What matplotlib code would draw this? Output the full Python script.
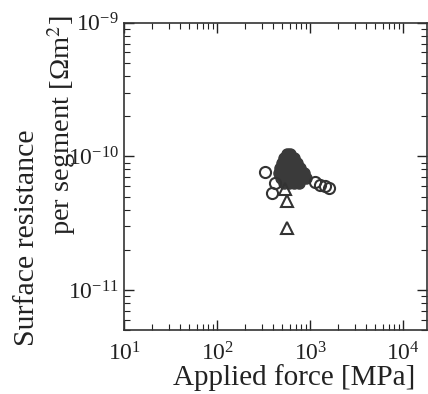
import matplotlib
matplotlib.use('Agg')
from matplotlib import pyplot as plt
from matplotlib.ticker import LogLocator, NullFormatter

plt.rcParams['font.family'] = ['Liberation Serif', 'DejaVu Serif']
plt.rcParams['mathtext.fontset'] = 'stix'

# open circles
circ_x = [328, 421, 390, 1130, 1280, 1450, 1600]
circ_y = [7.6e-11, 6.3e-11, 5.3e-11, 6.4e-11, 6.15e-11, 6.05e-11, 5.85e-11]

# open triangles
tri_x = [566, 566, 538]
tri_y = [4.67e-11, 2.92e-11, 5.75e-11]

# dense filled cluster
fill_x = [566, 609,
          525, 594, 673,
          500, 566, 640, 725,
          475, 538, 609, 690, 780,
          464, 525, 594, 673, 762, 861,
          488, 552, 625, 707, 800, 906,
          525, 594, 673, 762]
fill_y = [1.05e-10, 1.05e-10,
          9.66e-11, 9.66e-11, 9.66e-11,
          8.86e-11, 8.86e-11, 8.86e-11, 8.86e-11,
          8.13e-11, 8.13e-11, 8.13e-11, 8.13e-11, 8.13e-11,
          7.45e-11, 7.45e-11, 7.45e-11, 7.45e-11, 7.45e-11, 7.45e-11,
          6.84e-11, 6.84e-11, 6.84e-11, 6.84e-11, 6.84e-11, 6.84e-11,
          6.27e-11, 6.27e-11, 6.27e-11, 6.27e-11]

xticks = [1e1, 1e2, 1e3, 1e4]
yticks = [1e-11, 1e-10, 1e-9]

fig = plt.figure(figsize=(4.28, 3.94), dpi=100)
ax = fig.add_axes([0.29, 0.162, 0.708, 0.78])

ax.plot(fill_x, fill_y, 'o', ms=8, color='#3a3a3a', mec='#3a3a3a')
ax.plot(circ_x, circ_y, 'o', ms=8, mfc='none', mec='#333333', mew=1.5)
ax.plot(tri_x, tri_y, '^', ms=8, mfc='none', mec='#333333', mew=1.5)

ax.set_xscale('log')
ax.set_yscale('log')
ax.set_xticks(xticks)
ax.set_yticks(yticks)
ax.set_xlim(10, 1.8e4)
ax.set_ylim(5e-12, 1e-9)

ax.xaxis.set_minor_locator(LogLocator(base=10, subs=range(2, 10), numticks=20))
ax.yaxis.set_minor_locator(LogLocator(base=10, subs=range(2, 10), numticks=20))
ax.xaxis.set_minor_formatter(NullFormatter())
ax.yaxis.set_minor_formatter(NullFormatter())

ax.tick_params(which='both', direction='in', top=True, right=True, labelsize=17, colors='#222222')
ax.tick_params(which='major', length=7, width=1)
ax.tick_params(which='minor', length=4, width=0.8)
ax.tick_params(axis='x', pad=9)
ax.tick_params(axis='y', pad=4)
for s in ax.spines.values():
    s.set_linewidth(1.2)
    s.set_color('#333333')

ax.set_xlabel('Applied force [MPa]', fontsize=21, color='#222222')
ax.xaxis.set_label_coords(0.56, -0.11)

# two-line y label, the lines sit offset from each other in the original
fig.text(27 / 428, 1 - 238 / 394, 'Surface resistance', rotation=90,
         ha='center', va='center', fontsize=21.5, color='#222222')
fig.text(62 / 428, 1 - 125 / 394, 'per segment [\u03a9m$^2$]', rotation=90,
         ha='center', va='center', fontsize=20.5, color='#222222')

fig.savefig('out.png', dpi=100)
